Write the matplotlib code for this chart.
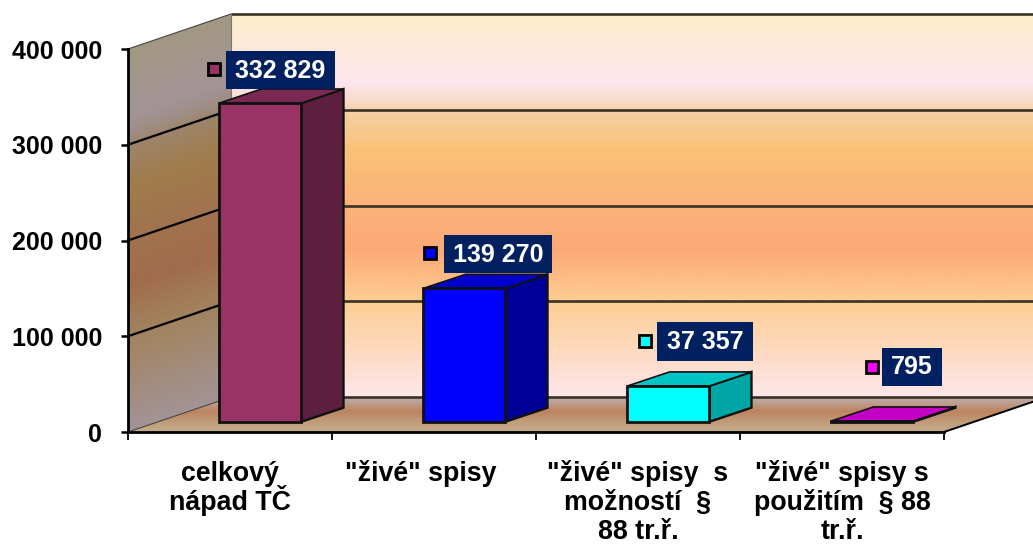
import matplotlib
matplotlib.use("Agg")
import numpy as np
import matplotlib.pyplot as plt
from matplotlib.colors import LinearSegmentedColormap
from matplotlib.patches import Polygon, Rectangle
from matplotlib.transforms import Affine2D

W, H = 1033, 545

# data
categories = ['celkový\nnápad TČ', '"živé" spisy', '"živé" spisy  s\nmožností  §\n88 tr.ř.', '"živé" spisy s\npoužitím  § 88\ntr.ř.']
values = [332829, 139270, 37357, 795]
value_labels = ['332 829', '139 270', '37 357', '795']
yticks = [0, 100000, 200000, 300000, 400000]
ytick_labels = ['0', '100 000', '200 000', '300 000', '400 000']

# colours: front, top, side
bar_front = ['#993366', '#0000FF', '#00FFFF', '#FF00FF']
bar_top = ['#7A2952', '#0000CC', '#00C4C4', '#C400C4']
bar_side = ['#5C1F3D', '#000099', '#00A6A6', '#990099']

# label placement in picture pixels
label_shift = [0, -13, 0, 0]
marker_xy = [(214, 69), (430, 253), (645, 341), (872, 367)]
box_xywh = [(226, 51, 109, 38), (444, 235, 108, 38), (657, 322, 96, 39), (882, 348, 60, 38)]

# === Scale: front plane of the chart ===
px_per_cat = 204.0
px_per_val = 383.0 / 400000
x0_px, y0_px = 128, 432

depth_x = 103 / px_per_cat
depth_y = 35 / px_per_val
bar_w = 82 / px_per_cat
bar_dx = 42 / px_per_cat
bar_dy = 14 / px_per_val
gap_x = 30.5 / px_per_cat
gap_y = 10.3 / px_per_val

fig = plt.figure(figsize=(W / 100, H / 100), dpi=100, facecolor='white')
ax = fig.add_axes([0, 0, 1, 1])
ax.patch.set_visible(False)
plt.rcParams['font.family'] = ['Liberation Sans']

xlim = (-x0_px / px_per_cat, (W - x0_px) / px_per_cat)
ylim = (-(H - y0_px) / px_per_val, y0_px / px_per_val)

# picture pixels -> figure, for the data labels
px = Affine2D().scale(1 / W, -1 / H).translate(0, 1) + fig.transFigure

# === Walls and floor ===
wall_stops = [(0.0, '#FEE6EA'), (0.251, '#FDCD92'), (0.385, '#FDA976'), (0.495, '#FCB27A'),
              (0.647, '#FAC276'), (0.746, '#F6CFA6'), (0.777, '#F8DCCB'), (0.825, '#FEE6EE'),
              (1.0, '#FDEECB')]
wall_cmap = LinearSegmentedColormap.from_list('wall', wall_stops)
floor_cmap = LinearSegmentedColormap.from_list('floor', [(0, '#BDABA8'), (0.1, '#BDA8A0'), (0.42, '#BC8460'), (0.8, '#C2A280'), (1, '#C3AD8F')])

xmax = 4 + depth_x
back = np.linspace(0, 1, 400)[:, None]
im = ax.imshow(back, cmap=wall_cmap, origin='lower', aspect='auto', vmin=0, vmax=1,
               extent=(depth_x, xmax, depth_y, depth_y + 400000), zorder=1)

# side wall uses the same gradient, sheared and darker
xx, yy = np.meshgrid(np.linspace(0, depth_x, 120), np.linspace(0, 400000 + depth_y, 500))
frac = (yy - xx / depth_x * depth_y) / 400000
side_rgb = wall_cmap(np.clip(frac, 0, 1))[..., :3] * 0.64
im2 = ax.imshow(side_rgb, origin='lower', aspect='auto',
                extent=(0, depth_x, 0, 400000 + depth_y), zorder=1)
side_poly = Polygon([(0, 0), (depth_x, depth_y), (depth_x, depth_y + 400000), (0, 400000)],
                    closed=True, transform=ax.transData, fc='none', ec='none')
ax.add_patch(side_poly)
im2.set_clip_path(side_poly)

fl = np.linspace(1, 0, 200)[:, None]
im3 = ax.imshow(fl, cmap=floor_cmap, origin='lower', aspect='auto', vmin=0, vmax=1,
                extent=(0, xmax, 0, depth_y), zorder=1)
floor_poly = Polygon([(0, 0), (4, 0), (xmax, depth_y), (depth_x, depth_y)],
                     closed=True, transform=ax.transData, fc='none', ec='none')
ax.add_patch(floor_poly)
im3.set_clip_path(floor_poly)

# === Grid lines ===
for v in yticks:
    ax.plot([depth_x, xmax], [depth_y + v, depth_y + v], color='#3a3226', lw=1.9, zorder=2, solid_capstyle='butt')
    side_lw = 0.8 if v in (0, 400000) else 1.6
    side_col = '#444444' if v in (0, 400000) else 'black'
    ax.plot([0, depth_x], [v, depth_y + v], color=side_col, lw=side_lw, zorder=2)
ax.plot([depth_x, depth_x], [depth_y, depth_y + 400000], color='#777777', lw=0.8, zorder=2)
ax.plot([4, xmax], [0, depth_y], color='black', lw=1.4, zorder=2)

# === Bars ===
for i, v in enumerate(values):
    x1 = i + 0.5 - bar_w / 2 + gap_x
    x2 = x1 + bar_w
    y1 = gap_y
    y2 = y1 + v
    front = [(x1, y1), (x2, y1), (x2, y2), (x1, y2)]
    top = [(x1, y2), (x2, y2), (x2 + bar_dx, y2 + bar_dy), (x1 + bar_dx, y2 + bar_dy)]
    side = [(x2, y1), (x2 + bar_dx, y1 + bar_dy), (x2 + bar_dx, y2 + bar_dy), (x2, y2)]
    ax.add_patch(Polygon(side, closed=True, fc=bar_side[i], ec='#111111', lw=1.7, zorder=3))
    ax.add_patch(Polygon(top, closed=True, fc=bar_top[i], ec='#111111', lw=1.2, zorder=3))
    ax.add_patch(Polygon(front, closed=True, fc=bar_front[i], ec='#111111', lw=2.0, zorder=4))

# === Data labels ===
for i, lab in enumerate(value_labels):
    bx, by, bw, bh = box_xywh[i]
    ax.add_patch(Rectangle((bx, by), bw, bh, transform=px, fc='#002060', ec='none', zorder=5))
    ax.text(bx + bw / 2, by + bh / 2 + 0.5, lab, transform=px, color='white', fontsize=18,
            fontweight='bold', ha='center', va='center', zorder=6)
    mx, my = marker_xy[i]
    ax.plot([mx], [my], marker='s', ms=9.2, mfc=bar_front[i], mec='black', mew=2.0,
            transform=px, zorder=6, clip_on=False)

# === Axes ===
ax.set_xlim(xlim)
ax.set_ylim(ylim)
for s in ['top', 'right']:
    ax.spines[s].set_visible(False)
ax.spines['left'].set_position(('data', 0))
ax.spines['left'].set_bounds(0, 400000)
ax.spines['bottom'].set_position(('data', 0))
ax.spines['bottom'].set_bounds(0, 4)
ax.spines['left'].set_linewidth(2.0)
ax.spines['bottom'].set_linewidth(2.0)
ax.spines['left'].set_zorder(7)
ax.spines['bottom'].set_zorder(7)

ax.set_yticks(yticks)
ax.set_yticklabels(ytick_labels, fontsize=18, fontweight='bold')
ax.tick_params(axis='y', length=5, width=1.8, pad=13.5)
ax.set_xticks(range(5))
ax.set_xticklabels([])
ax.tick_params(axis='x', length=6, width=1.3)

# each line on its own baseline, the wrapped lines sit 29 px apart
for i, cat in enumerate(categories):
    for k, line in enumerate(cat.split('\n')):
        ax.annotate(line, xy=(i + 0.5, 0), xytext=(label_shift[i], -49 - 29 * k), textcoords='offset pixels',
                    ha='center', va='baseline', fontsize=19.3, fontweight='bold',
                    annotation_clip=False)

fig.savefig('out.png', dpi=100, facecolor='white')
